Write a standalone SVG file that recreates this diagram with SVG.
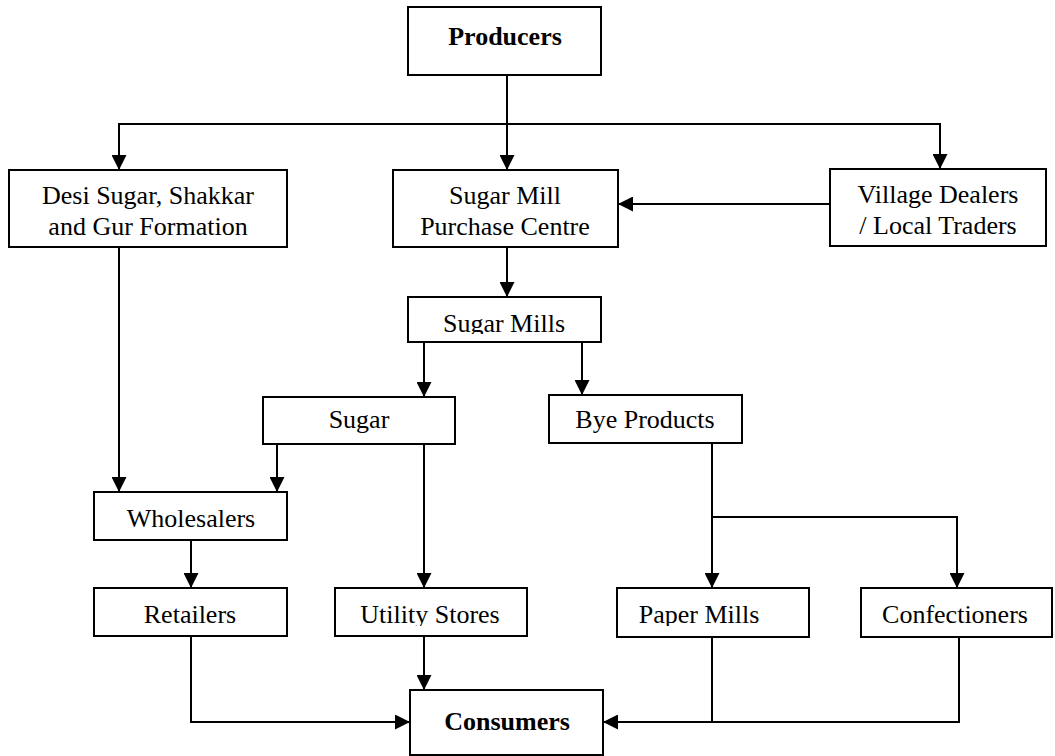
<svg xmlns="http://www.w3.org/2000/svg" width="1055" height="756" viewBox="0 0 1055 756">
<style>
.box{fill:#fff;stroke:#000;stroke-width:2}
.t{font-family:"Liberation Serif","Times New Roman",serif;font-size:26px;fill:#000;text-anchor:middle}
.b{font-weight:bold}
.c{fill:none;stroke:#000;stroke-width:2}
</style>
<defs>
<marker id="ah" viewBox="0 0 10 10" refX="10" refY="5" markerWidth="15" markerHeight="15" markerUnits="userSpaceOnUse" orient="auto">
<path d="M0,0 L10,5 L0,10 z" fill="#000"/>
</marker>
<clipPath id="clipMills"><rect x="408" y="297" width="193" height="37"/></clipPath>
<clipPath id="clipSugar"><rect x="263" y="397" width="192" height="36"/></clipPath>
<clipPath id="clipBye"><rect x="549" y="395" width="193" height="38"/></clipPath>
<clipPath id="clipUtil"><rect x="335" y="588" width="192" height="38"/></clipPath>
<clipPath id="clipPaper"><rect x="617" y="588" width="192" height="38"/></clipPath>
</defs>
<rect width="1055" height="756" fill="#fff"/>

<g id="connectors">
<line class="c" x1="507" y1="75" x2="507" y2="170" marker-end="url(#ah)"/>
<polyline class="c" points="119,170 119,124 940,124 940,169" marker-end="url(#ah)"/>
<line class="c" x1="119" y1="124" x2="119" y2="170" marker-end="url(#ah)"/>
<line class="c" x1="830" y1="204" x2="618" y2="204" marker-end="url(#ah)"/>
<line class="c" x1="119" y1="247" x2="119" y2="492" marker-end="url(#ah)"/>
<line class="c" x1="507" y1="247" x2="507" y2="297" marker-end="url(#ah)"/>
<line class="c" x1="424" y1="342" x2="424" y2="397" marker-end="url(#ah)"/>
<line class="c" x1="582" y1="342" x2="582" y2="395" marker-end="url(#ah)"/>
<line class="c" x1="277" y1="444" x2="277" y2="492" marker-end="url(#ah)"/>
<line class="c" x1="424" y1="444" x2="424" y2="588" marker-end="url(#ah)"/>
<line class="c" x1="191" y1="540" x2="191" y2="588" marker-end="url(#ah)"/>
<line class="c" x1="712" y1="443" x2="712" y2="588" marker-end="url(#ah)"/>
<polyline class="c" points="712,517 957,517 957,588" marker-end="url(#ah)"/>
<polyline class="c" points="191,636 191,722 410,722" marker-end="url(#ah)"/>
<line class="c" x1="424" y1="636" x2="424" y2="690" marker-end="url(#ah)"/>
<line class="c" x1="712" y1="637" x2="712" y2="722"/>
<polyline class="c" points="959,637 959,722 603,722" marker-end="url(#ah)"/>
</g>

<g id="producers">
<rect class="box" x="408" y="7" width="193" height="68"/>
<text class="t b" x="505" y="45">Producers</text>
</g>
<g id="desi">
<rect class="box" x="9" y="170" width="278" height="77"/>
<text class="t" x="148" y="204">Desi Sugar, Shakkar</text>
<text class="t" x="148" y="235">and Gur Formation</text>
</g>
<g id="purchase">
<rect class="box" x="393" y="170" width="225" height="77"/>
<text class="t" x="505" y="204">Sugar Mill</text>
<text class="t" x="505" y="235">Purchase Centre</text>
</g>
<g id="village">
<rect class="box" x="830" y="169" width="216" height="77"/>
<text class="t" x="938" y="203">Village Dealers</text>
<text class="t" x="938" y="234">/ Local Traders</text>
</g>
<g id="mills">
<rect class="box" x="408" y="297" width="193" height="45"/>
<text class="t" x="504" y="332" clip-path="url(#clipMills)">Sugar Mills</text>
</g>
<g id="sugar">
<rect class="box" x="263" y="397" width="192" height="47"/>
<text class="t" x="359" y="428" clip-path="url(#clipSugar)">Sugar</text>
</g>
<g id="bye">
<rect class="box" x="549" y="395" width="193" height="48"/>
<text class="t" x="645" y="428" clip-path="url(#clipBye)">Bye Products</text>
</g>
<g id="wholesalers">
<rect class="box" x="94" y="492" width="193" height="48"/>
<text class="t" x="191" y="527">Wholesalers</text>
</g>
<g id="retailers">
<rect class="box" x="94" y="588" width="193" height="48"/>
<text class="t" x="190" y="623">Retailers</text>
</g>
<g id="utility">
<rect class="box" x="335" y="588" width="192" height="48"/>
<text class="t" x="430" y="623" clip-path="url(#clipUtil)">Utility Stores</text>
</g>
<g id="paper">
<rect class="box" x="617" y="588" width="192" height="49"/>
<text class="t" x="699" y="623" clip-path="url(#clipPaper)">Paper Mills</text>
</g>
<g id="confectioners">
<rect class="box" x="861" y="588" width="191" height="49"/>
<text class="t" x="955" y="623">Confectioners</text>
</g>
<g id="consumers">
<rect class="box" x="410" y="690" width="193" height="65"/>
<text class="t b" x="507" y="730">Consumers</text>
</g>
</svg>
